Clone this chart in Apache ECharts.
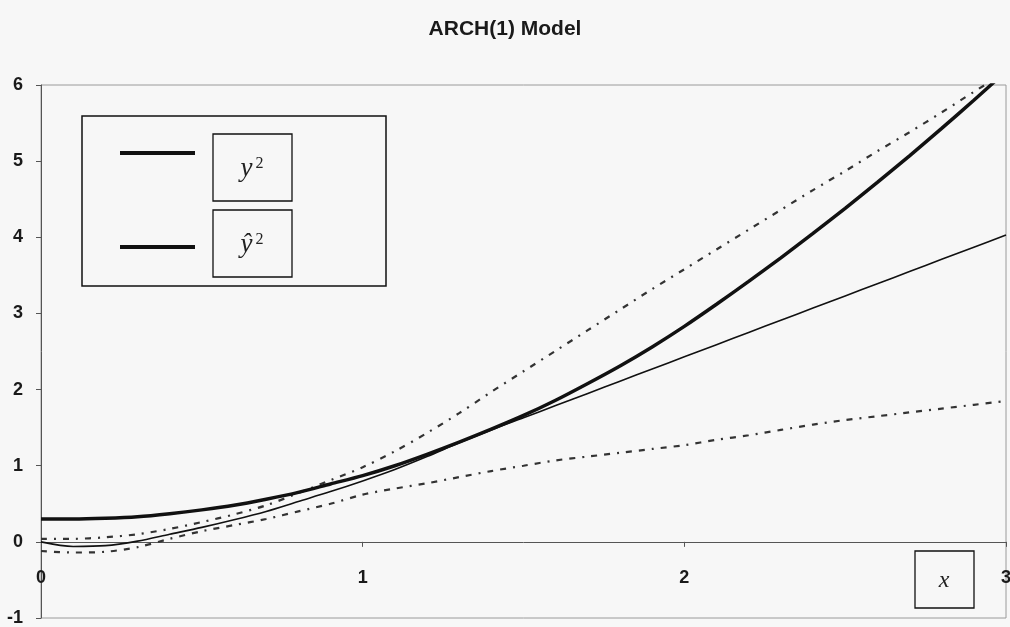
<!DOCTYPE html>
<html>
<head>
<meta charset="utf-8">
<script src="https://cdn.jsdelivr.net/npm/echarts@6/dist/echarts.min.js"></script>
<style>
html,body{margin:0;padding:0;background:#f7f7f7;}
#c{width:1010px;height:627px;}
</style>
</head>
<body>
<div id="c"></div>
<script>
// x positions
const xs = [0,0.1,0.2,0.3,0.4,0.5,0.6,0.7,0.8,0.9,1.0,1.1,1.2,1.3,1.4,1.5,1.6,1.7,1.8,1.9,2.0,2.1,2.2,2.3,2.4,2.5,2.6,2.7,2.8,2.9,3.0];
// y^2 (thick solid)
const ySq = [0.30,0.30,0.31,0.33,0.37,0.42,0.48,0.56,0.65,0.76,0.87,1.00,1.15,1.31,1.48,1.66,1.86,2.08,2.31,2.56,2.83,3.12,3.42,3.73,4.05,4.38,4.72,5.07,5.43,5.80,6.18];
// y-hat^2 (thin solid)
const yHatSq = [0.00,-0.06,-0.05,0.01,0.10,0.19,0.29,0.40,0.53,0.66,0.80,0.95,1.12,1.30,1.47,1.63,1.79,1.95,2.11,2.27,2.43,2.59,2.75,2.91,3.07,3.23,3.39,3.55,3.71,3.87,4.03];
// upper band (dash-dot)
const upper = [0.04,0.04,0.06,0.10,0.17,0.26,0.36,0.48,0.64,0.81,0.98,1.19,1.43,1.69,1.97,2.24,2.51,2.78,3.05,3.32,3.58,3.84,4.10,4.36,4.62,4.87,5.13,5.38,5.64,5.91,6.17];
// lower band (dash-dot)
const lower = [-0.12,-0.14,-0.13,-0.07,0.04,0.14,0.22,0.30,0.40,0.50,0.62,0.70,0.77,0.85,0.93,1.00,1.07,1.12,1.17,1.22,1.27,1.34,1.40,1.47,1.54,1.60,1.65,1.70,1.75,1.80,1.85];
const xTicks = [0,1,2,3];
const yTicks = [-1,0,1,2,3,4,5,6];
const titleText = 'ARCH(1) Model';

const pairs = arr => xs.map((x,i)=>[x, arr[i]]);
const chart = echarts.init(document.getElementById('c'), null, {renderer:'canvas'});
const serif = '"Liberation Serif","Times New Roman",serif';
const sans = '"Liberation Sans",Arial,sans-serif';

chart.setOption({
  backgroundColor:'#f7f7f7',
  animation:false,
  title:{text:titleText, left:'center', top:14,
    textStyle:{fontFamily:sans, fontWeight:'bold', fontSize:21, color:'#1a1a1a'}},
  grid:{left:41, right:4, top:85, bottom:9, show:true, containLabel:false, outerBoundsMode:'none',
    borderColor:'#9a9a9a', borderWidth:1, backgroundColor:'transparent'},
  xAxis:{type:'value', min:xTicks[0], max:xTicks[xTicks.length-1], interval:1,
    axisLine:{onZero:true, lineStyle:{color:'#555', width:1}},
    axisTick:{show:true, inside:false, length:5, lineStyle:{color:'#555'}},
    axisLabel:{margin:-49, fontFamily:sans, fontWeight:'bold', fontSize:18, color:'#1a1a1a', showMinLabel:true, showMaxLabel:true},
    splitLine:{show:false}},
  yAxis:{type:'value', min:yTicks[0], max:yTicks[yTicks.length-1], interval:1,
    axisLine:{show:true, onZero:false, lineStyle:{color:'#555', width:1}},
    axisTick:{show:true, length:5, lineStyle:{color:'#555'}},
    axisLabel:{margin:18, fontFamily:sans, fontWeight:'bold', fontSize:18, color:'#1a1a1a'},
    splitLine:{show:false}},
  series:[
    {type:'line', data:pairs(upper), smooth:0.3, symbol:'none', clip:true, z:2,
      lineStyle:{color:'#333', width:2.2, type:[6,7,2,7]}},
    {type:'line', data:pairs(lower), smooth:0.3, symbol:'none', clip:true, z:2,
      lineStyle:{color:'#333', width:2.2, type:[6,7,6,7,2,7]}},
    {type:'line', data:pairs(yHatSq), smooth:0.3, symbol:'none', clip:true, z:3,
      lineStyle:{color:'#111', width:1.6}},
    {type:'line', data:pairs(ySq), smooth:0.3, symbol:'none', clip:true, z:4,
      lineStyle:{color:'#111', width:3.5}}
  ],
  graphic:[
    {type:'rect', shape:{x:82, y:116, width:304, height:170}, style:{fill:'#f7f7f7', stroke:'#111', lineWidth:1.5}, z:10},
    {type:'line', shape:{x1:120, y1:153, x2:195, y2:153}, style:{stroke:'#111', lineWidth:4}, z:11},
    {type:'line', shape:{x1:120, y1:247, x2:195, y2:247}, style:{stroke:'#111', lineWidth:4}, z:11},
    {type:'rect', shape:{x:213, y:134, width:79, height:67}, style:{fill:'#f7f7f7', stroke:'#111', lineWidth:1.3}, z:11},
    {type:'rect', shape:{x:213, y:210, width:79, height:67}, style:{fill:'#f7f7f7', stroke:'#111', lineWidth:1.3}, z:11},
    {type:'text', x:252, y:169, z:12, style:{text:'{i|y}{s|2}', align:'center', verticalAlign:'middle',
      rich:{i:{fontFamily:serif, fontStyle:'italic', fontSize:27, fill:'#222'}, s:{fontFamily:serif, fontSize:16, fill:'#222', verticalAlign:'top', padding:[0,0,0,3]}}}},
    {type:'text', x:252, y:245, z:12, style:{text:'{i|ŷ}{s|2}', align:'center', verticalAlign:'middle',
      rich:{i:{fontFamily:serif, fontStyle:'italic', fontSize:27, fill:'#222'}, s:{fontFamily:serif, fontSize:16, fill:'#222', verticalAlign:'top', padding:[0,0,0,3]}}}},
    {type:'rect', shape:{x:915, y:551, width:59, height:57}, style:{fill:'#f7f7f7', stroke:'#111', lineWidth:1.3}, z:11},
    {type:'text', x:944, y:581, z:12, style:{text:'x', align:'center', verticalAlign:'middle', fontFamily:serif, fontStyle:'italic', fontSize:24, fill:'#222'}}
  ]
});
</script>
</body>
</html>
